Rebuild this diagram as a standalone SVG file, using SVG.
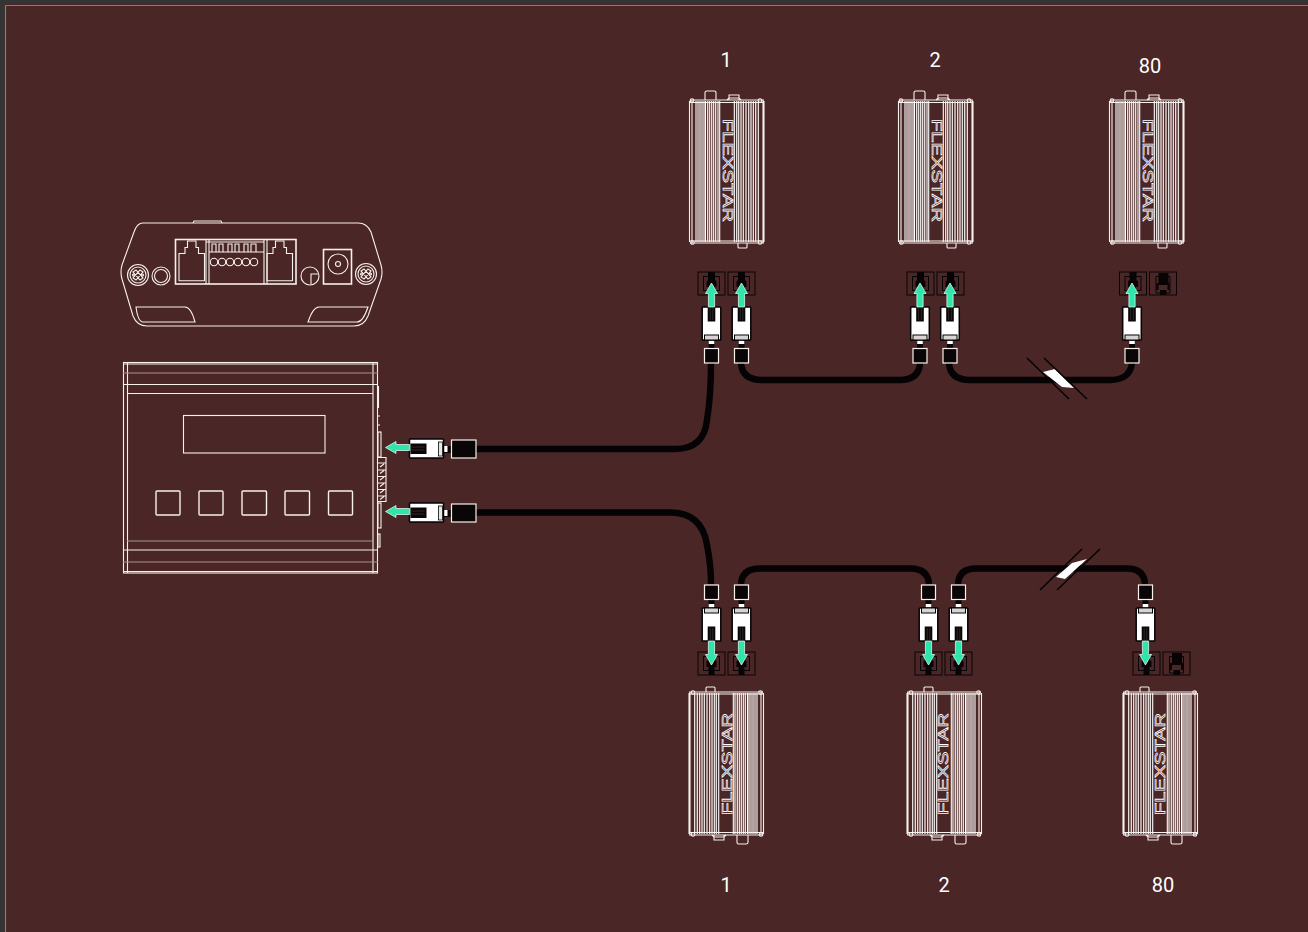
<svg xmlns="http://www.w3.org/2000/svg" xmlns:xlink="http://www.w3.org/1999/xlink" width="1308" height="932" viewBox="0 0 1308 932">
<style>
.l{fill:none;stroke:#f8f0ec;stroke-width:1.1}
.d{fill:none;stroke:#a89490;stroke-width:1.2}
.b{fill:none;stroke:#f8f0ec;stroke-width:1.6}
.r{stroke:#ffffff;stroke-width:1.1}
.r2{stroke:#efe6e3;stroke-width:1.3}
.cable{fill:none;stroke:#050304;stroke-width:6.400;stroke-linecap:butt}
.tick{stroke:#050304;stroke-width:1.6;fill:none}
.snip{fill:#fff}
.lbl{font-family:Roboto,"Liberation Sans",sans-serif;font-size:20px;fill:#fff;text-anchor:middle}
.brand{font-family:"Liberation Sans",Arial,sans-serif;font-size:14.5px;fill:none;stroke:#ffffff;stroke-width:.65;text-rendering:geometricPrecision}
.arrow{fill:#2ee6ab;stroke:#f0fff8;stroke-width:.7}
.sock{fill:none;stroke:#080405;stroke-width:1}
</style>
<defs>
<g id="dev">
<path class="l" d="M1 10H75M1 12.500H75M3 10V153M74 10V153M.5 11V152M75 11V152M1 153H75M1 151H75"/>
<path class="l" d="M16 10V2.500Q16 1 18 1H25.500Q27 1 27 2.500V10M40 10V5H50V10M38 10L40 8H50L52 10M49 153V157Q49 158 50 158H57Q58 158 58 157V153"/>
<circle class="l" cx="3" cy="10.500" r="1.800"/><circle class="l" cx="71" cy="10.500" r="1.800"/><circle class="l" cx="3.500" cy="152.500" r="1.800"/><circle class="l" cx="71" cy="152.500" r="1.800"/>
<g class="r"><path d="M7 11V152M9 11V152M13 11V152M16.500 11V152M20.700 11V152M24.700 11V152M29 11V152M30.700 11V152M45.300 11V152M49.700 11V152M54.300 11V152M59.700 11V152M64.300 11V152M69.300 11V152"/></g>
<g class="r2"><path d="M11 11V152M15 11V152M18.700 11V152M22.700 11V152M26.700 11V152M47.700 11V152M52 11V152M57 11V152M62 11V152M66.700 11V152"/></g>
</g>
<g id="plug">
<path d="M-3 33H3V42H-3Z" fill="#050304"/>
<rect x="-2.800" y="33" width="5.600" height="4" fill="#fff"/>
<rect x="-9.300" y="0" width="18.600" height="33" rx=".8" fill="#fff" stroke="#050304" stroke-width="1.500"/>
<rect x="-3.800" y="0" width="7.600" height="14.500" fill="#0a0506"/>
<path d="M-1.300 1V13M1.300 1V13" stroke="#444" stroke-width=".6"/>
<rect x="-7" y="28" width="14" height="5" fill="#d8d4d2" stroke="#050304" stroke-width="1"/>
<rect x="-7" y="41.500" width="14" height="14.500" fill="#0a0506" stroke="#f8f0ec" stroke-width="1.200"/>
<path class="arrow" d="M0 -24L6 -13.500H3.100V0H-3.100V-13.500H-6Z"/>
</g>
<g id="hplug">
<path d="M34 7H43V14H34Z" fill="#050304"/>
<rect x="34" y="7" width="4" height="6" fill="#fff"/>
<rect x="0" y="0" width="34" height="19" rx=".8" fill="#fff" stroke="#050304" stroke-width="1.500"/>
<rect x="1" y="4.500" width="16" height="10.500" fill="#0a0506"/>
<path d="M1 8H15M1 11H15" stroke="#444" stroke-width=".6"/>
<rect x="29" y="3" width="4" height="14" fill="#e8e4e2" stroke="#050304" stroke-width=".8"/>
<rect x="42" y="1" width="24.500" height="18" fill="#0a0506" stroke="#f8f0ec" stroke-width="1.200"/>
<path class="arrow" d="M-24 8.500L-13.500 2.500V5.500H0V11.500H-13.500V14.500Z"/>
</g>
<g id="sockA">
<rect class="sock" x="0" y="0" width="27" height="23"/>
<rect class="sock" x="5.500" y="4.500" width="16" height="14"/>
<path d="M10 0H17V8L18.500 9.500V15H16.500V23H10.500V15H8.500V9.500L10 8Z" fill="#080405"/>
</g>
<g id="sockB">
<rect class="sock" x="0" y="0" width="27" height="23"/>
<path d="M9 1H19V11H20V18H17V23H10.500V18H7V11H9Z" fill="#080405"/>
<rect x="9" y="13" width="9" height="5" fill="#4a2626"/>
<path class="sock" d="M6.500 4.500H20.500V21H6.500Z"/>
</g>
<g id="screw">
<circle class="l" r="10.500"/><circle class="l" r="8"/>
<path class="l" d="M-5 -3L-2 -5L5 3L2 5ZM5 -3L2 -5L-5 3L-2 5Z"/>
<circle class="l" cx="-4.500" cy="0" r="1"/><circle class="l" cx="4.500" cy="0" r="1"/>
</g>
<g id="rj"><path class="l" d="M179 281V253.500H185V247.500H187.500V241H196V247.500H198.500V253.500H204.500V281M179 280.700H204.500"/></g>
</defs>

<rect width="1308" height="932" fill="#333534"/>
<rect x="4" y="4" width="1304" height="928" fill="#4a2626"/>
<path d="M5.500 932V5.500H1308" fill="none" stroke="#2aa983" stroke-width="1.200"/>

<g id="connectors">
<path class="cable" d="M476 449H675Q704 449 707 420Q711 395 711 363"/>
<path class="cable" d="M476 512.500H670Q702 512.500 707 545Q711 565 711 584"/>
<path class="cable" d="M741 363Q742 380 762 380H900Q919 380 920 363"/>
<path class="cable" d="M949 363Q950 380 970 380H1110Q1130 380 1132 363"/>
<path class="cable" d="M741 584Q742 568.500 760 568.500H910Q928 568.500 929 584"/>
<path class="cable" d="M958 584Q959 568.500 976 568.500H1127Q1144 568.500 1145 584"/>
<path class="snip" d="M1043 372L1055 369L1074 388L1062 387Z"/>
<path class="tick" d="M1027 358L1069 399M1044 358L1087 399"/>
<path class="snip" d="M1056 577L1072 563L1087 559L1065 579Z"/>
<path class="tick" d="M1040 590L1082 549M1057 590L1100 549"/>
</g>

<g id="front-panel">
<path class="l" d="M143 223H358Q367 223 371 232L381 265Q383 272 381 279L368 316Q364 326 354 326H147Q137 326 133 316L122 279Q120 272 122 265L134 232Q137 223 143 223Z"/>
<path class="l" d="M193 223L194 221H221L222 223"/>
<rect class="b" x="175.500" y="239.500" width="120.500" height="44.500"/>
<path class="l" d="M206 240V284M209 240V284M264 240V284M267 240V284M206 242H264M209 252H264"/>
<use xlink:href="#rj" href="#rj"/>
<use xlink:href="#rj" href="#rj" x="88"/>
<path class="l" d="M212 252V244H216V252M219 252V244H223V252M228 252V244H232V252M235 252V244H239V252M244 252V244H248V252M251 252V244H256V252"/>
<g class="l"><circle cx="214" cy="262" r="3.700"/><circle cx="222" cy="262" r="3.700"/><circle cx="230" cy="262" r="3.700"/><circle cx="238" cy="262" r="3.700"/><circle cx="246" cy="262" r="3.700"/><circle cx="254" cy="262" r="3.700"/></g>
<use xlink:href="#screw" href="#screw" x="138" y="275"/>
<use xlink:href="#screw" href="#screw" x="366" y="274"/>
<circle class="l" cx="161" cy="276" r="9"/><circle class="l" cx="161" cy="276" r="6.500"/>
<circle class="l" cx="310" cy="276" r="9"/>
<path class="l" d="M318 274H311V284"/>
<rect class="b" x="323.500" y="249.500" width="28" height="34.500"/>
<circle class="l" cx="338" cy="264" r="10"/><circle class="l" cx="338" cy="264" r="2.500"/>
<path class="l" d="M136 307H185Q191 307 195 322H143Q138 322 136 307Z"/>
<path class="l" d="M368 307H319Q313 307 308 322H357Q363 322 368 307Z"/>
</g>

<g id="controller">
<rect class="l" x="123.500" y="362.500" width="254" height="210.500"/>
<path class="l" d="M127.500 362V573M373 362V573M123 364H378M123 384.500H378M127 393.500H373M123 550H378M123 571.500H378"/>
<path class="d" d="M123 373H378M127 541H373M123 562H378"/>
<rect class="l" x="183.500" y="415.500" width="141.500" height="37.500"/>
<g class="b" style="stroke-width:1.400">
<rect x="156" y="491" width="24" height="24" rx="1"/><rect x="199" y="491" width="24" height="24" rx="1"/><rect x="242" y="491" width="24.500" height="24" rx="1"/><rect x="285" y="491" width="24.500" height="24" rx="1"/><rect x="328.500" y="491" width="24" height="24" rx="1"/>
</g>
<path class="l" d="M378.500 386V408M378 416H380M378 425H380"/>
<rect class="l" x="378" y="432" width="3" height="25"/>
<rect class="l" x="378" y="503" width="3" height="25"/>
<rect class="l" x="378" y="534" width="2" height="13"/>
<path class="l" d="M378 457.500H386V501.500H378M378 463H386M378 470H386M378 476.500H386M378 483H386M378 489.500H386M378 496H386M380 467L384 464M380 473.500L384 470.500M380 480L384 477M380 486.500L384 483.500M380 493L384 490M380 499.500L384 496.500"/>
</g>

<g id="plug-ctrl-1"><use xlink:href="#hplug" href="#hplug" x="409.500" y="439"/></g>
<g id="plug-ctrl-2"><use xlink:href="#hplug" href="#hplug" x="409.500" y="503"/></g>

<g id="repeater-top-1">
<use xlink:href="#dev" href="#dev" x="689" y="90"/>
<text class="brand" transform="translate(722.500 119) rotate(90)" textLength="103" lengthAdjust="spacingAndGlyphs">FLEXSTAR</text>
<text class="lbl" x="726" y="67">1</text>
<use xlink:href="#sockA" href="#sockA" x="698" y="272"/><use xlink:href="#sockA" href="#sockA" x="728" y="272"/>
<use xlink:href="#plug" href="#plug" x="711.500" y="307"/><use xlink:href="#plug" href="#plug" x="741.500" y="307"/>
</g>
<g id="repeater-top-2">
<use xlink:href="#dev" href="#dev" x="898" y="90"/>
<text class="brand" transform="translate(931.500 119) rotate(90)" textLength="103" lengthAdjust="spacingAndGlyphs">FLEXSTAR</text>
<text class="lbl" x="935" y="67">2</text>
<use xlink:href="#sockA" href="#sockA" x="907" y="272"/><use xlink:href="#sockA" href="#sockA" x="937" y="272"/>
<use xlink:href="#plug" href="#plug" x="920" y="307"/><use xlink:href="#plug" href="#plug" x="950" y="307"/>
</g>
<g id="repeater-top-80">
<use xlink:href="#dev" href="#dev" x="1109" y="90"/>
<text class="brand" transform="translate(1142.500 119) rotate(90)" textLength="103" lengthAdjust="spacingAndGlyphs">FLEXSTAR</text>
<text class="lbl" x="1150" y="72.500">80</text>
<use xlink:href="#sockA" href="#sockA" x="1119.500" y="272"/><use xlink:href="#sockB" href="#sockB" x="1149.500" y="272"/>
<use xlink:href="#plug" href="#plug" x="1132" y="307"/>
</g>

<g id="repeater-bottom-1">
<use xlink:href="#dev" href="#dev" transform="translate(764 845) rotate(180)"/>
<text class="brand" transform="translate(732 815) rotate(-90)" textLength="102" lengthAdjust="spacingAndGlyphs">FLEXSTAR</text>
<text class="lbl" x="726" y="892">1</text>
<use xlink:href="#sockA" href="#sockA" transform="translate(698 652)"/><use xlink:href="#sockA" href="#sockA" transform="translate(728 652)"/>
<use xlink:href="#plug" href="#plug" transform="translate(711.500 641) scale(1 -1)"/><use xlink:href="#plug" href="#plug" transform="translate(741.500 641) scale(1 -1)"/>
</g>
<g id="repeater-bottom-2">
<use xlink:href="#dev" href="#dev" transform="translate(982 845) rotate(180)"/>
<text class="brand" transform="translate(948 815) rotate(-90)" textLength="102" lengthAdjust="spacingAndGlyphs">FLEXSTAR</text>
<text class="lbl" x="944" y="892">2</text>
<use xlink:href="#sockA" href="#sockA" transform="translate(915 652)"/><use xlink:href="#sockA" href="#sockA" transform="translate(945 652)"/>
<use xlink:href="#plug" href="#plug" transform="translate(928.500 641) scale(1 -1)"/><use xlink:href="#plug" href="#plug" transform="translate(958.500 641) scale(1 -1)"/>
</g>
<g id="repeater-bottom-80">
<use xlink:href="#dev" href="#dev" transform="translate(1198 845) rotate(180)"/>
<text class="brand" transform="translate(1165 815) rotate(-90)" textLength="102" lengthAdjust="spacingAndGlyphs">FLEXSTAR</text>
<text class="lbl" x="1163" y="892">80</text>
<use xlink:href="#sockA" href="#sockA" transform="translate(1133 652)"/><use xlink:href="#sockB" href="#sockB" transform="translate(1163 652)"/>
<use xlink:href="#plug" href="#plug" transform="translate(1145.500 641) scale(1 -1)"/>
</g>
</svg>
